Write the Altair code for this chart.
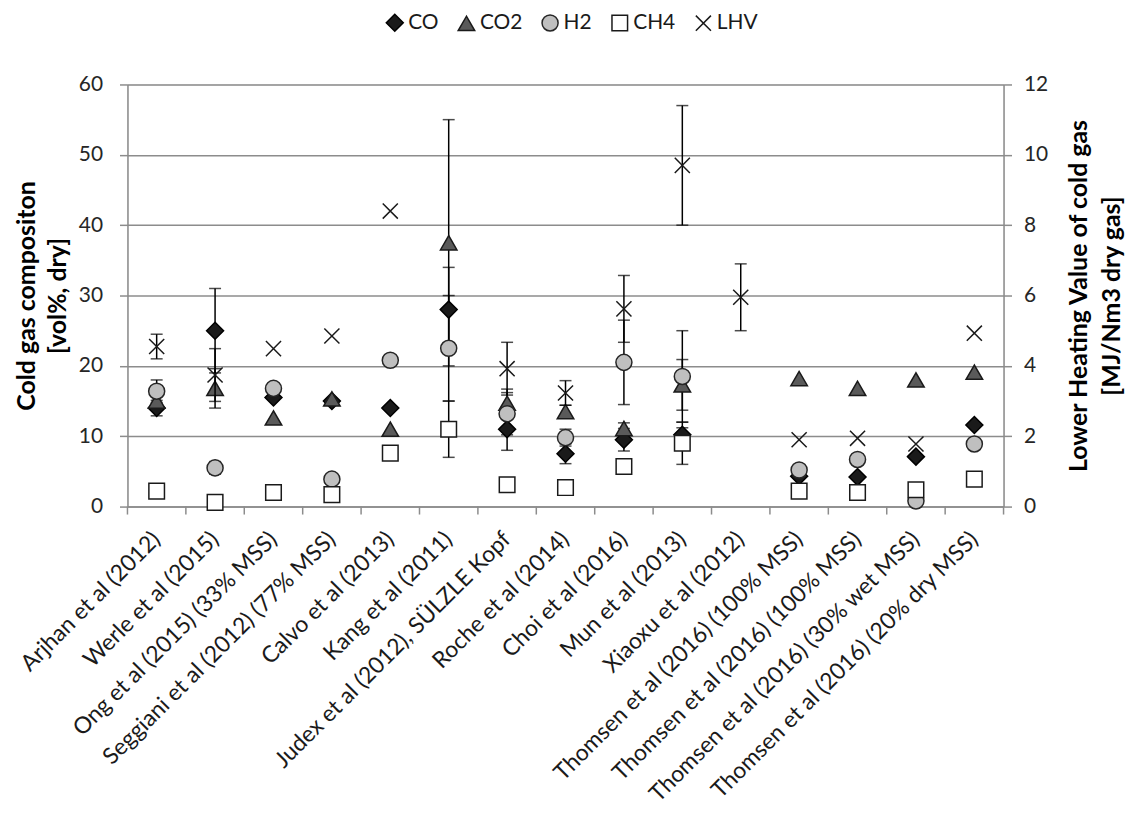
import altair as alt
import pandas as pd

categories = [
    "Arjhan et al (2012)", "Werle et al (2015)", "Ong et al (2015) (33% MSS)",
    "Seggiani et al (2012) (77% MSS)", "Calvo et al (2013)", "Kang et al (2011)",
    "Judex et al (2012), SÜLZLE Kopf", "Roche et al (2014)", "Choi et al (2016)",
    "Mun et al (2013)", "Xiaoxu et al (2012)", "Thomsen et al (2016) (100% MSS)",
    "Thomsen et al (2016) (100% MSS)", "Thomsen et al (2016) (30% wet MSS)",
    "Thomsen et al (2016) (20% dry MSS)",
]
series_names = ["CO", "CO2", "H2", "CH4", "LHV"]

co = [14.0, 25.0, 15.5, 15.0, 14.0, 28.0, 11.0, 7.5, 9.5, 10.2, None, 4.3, 4.2, 7.1, 11.6]
co2 = [15.0, 16.8, 12.6, 15.3, 11.0, 37.5, 14.7, 13.5, 11.1, 17.3, None, 18.2, 16.8, 18.0, 19.1]
h2 = [16.4, 5.5, 16.8, 3.9, 20.8, 22.5, 13.2, 9.8, 20.5, 18.5, None, 5.2, 6.7, 0.8, 8.9]
ch4 = [2.2, 0.6, 2.0, 1.7, 7.6, 11.0, 3.1, 2.7, 5.7, 9.0, None, 2.2, 2.0, 2.4, 3.9]
lhv = [4.55, 3.74, 4.49, 4.85, 8.4, None, 3.92, 3.23, 5.62, 9.7, 5.95, 1.9, 1.94, 1.78, 4.93]

co_err = [1.1, 6.0, None, None, None, 6.0, 3.0, 1.4, 1.6, 1.0, None, None, None, None, None]
co2_err = [None, 2.8, None, None, None, 17.5, 2.0, 0.9, 0.8, 3.6, None, None, None, None, None]
h2_err = [1.6, 0.9, None, None, None, 7.5, 3.0, 1.2, 6.0, 6.5, None, None, None, None, None]
ch4_err = [None, None, None, None, None, 4.0, None, None, None, 3.0, None, None, None, None, None]
lhv_err = [0.35, 0.75, None, None, None, None, 0.75, 0.35, 0.95, 1.7, 0.95, None, None, None, None]

comp_rows, comp_err_rows, lhv_rows, lhv_err_rows = [], [], [], []
for name, vals, errs in [("CO", co, co_err), ("CO2", co2, co2_err), ("H2", h2, h2_err), ("CH4", ch4, ch4_err)]:
    for i, (v, e) in enumerate(zip(vals, errs)):
        if v is not None:
            comp_rows.append({"idx": i, "series": name, "value": v})
            if e is not None:
                comp_err_rows.append({"idx": i, "series": name, "lo": v - e, "hi": v + e})
for i, (v, e) in enumerate(zip(lhv, lhv_err)):
    if v is not None:
        lhv_rows.append({"idx": i, "series": "LHV", "value": v})
        if e is not None:
            lhv_err_rows.append({"idx": i, "series": "LHV", "lo": v - e, "hi": v + e})

comp_df = pd.DataFrame(comp_rows)
comp_err_df = pd.DataFrame(comp_err_rows)
lhv_df = pd.DataFrame(lhv_rows)
lhv_err_df = pd.DataFrame(lhv_err_rows)
cat_df = pd.DataFrame({"idx": list(range(len(categories)))})
last_df = pd.DataFrame({"idx": [len(categories) - 1]})

FONT = "Lato"
GRID = "#8c8c8c"
label_expr = "[" + ",".join("'%s'" % c for c in categories) + "][datum.value]"

x_scale = alt.Scale(type="band", paddingInner=0, paddingOuter=0)
x_axis = alt.Axis(title=None, labelExpr=label_expr, labelAngle=-45, labelAlign="right",
                  labelBaseline="middle", labelFontSize=23, labelColor="#1a1a1a",
                  labelPadding=29, ticks=False, domain=True, domainColor=GRID,
                  domainWidth=1.5, grid=False, labelFont=FONT, labelLimit=500)


def X(**kw):
    return alt.X("idx:O", scale=x_scale, axis=x_axis, **kw)


left_scale = alt.Scale(domain=[0, 60], nice=False, zero=True)
left_axis = alt.Axis(title=["Cold gas compositon", "[vol%, dry]"], values=[0, 10, 20, 30, 40, 50, 60],
                     grid=True, gridColor=GRID, gridWidth=1.5, domainColor=GRID, domainWidth=1.5,
                     tickColor=GRID, tickWidth=1.5, tickSize=8, labelFontSize=21, labelColor="#262626",
                     labelPadding=17, titleFontSize=25, titleFontWeight="bold", titleColor="#000000",
                     titlePadding=8, labelFont=FONT, titleFont=FONT, titleLineHeight=31)
right_scale = alt.Scale(domain=[0, 12], nice=False, zero=True)
right_axis = alt.Axis(title=["Lower Heating Value of cold gas", "[MJ/Nm3 dry gas]"], orient="right",
                      values=[0, 2, 4, 6, 8, 10, 12], grid=False, domainColor=GRID, domainWidth=1.5,
                      tickColor=GRID, tickWidth=1.5, tickSize=8, labelFontSize=21, labelColor="#262626",
                      labelPadding=12, titleFontSize=25, titleFontWeight="bold", titleColor="#000000",
                      titleAngle=-90, titlePadding=11, labelFont=FONT, titleFont=FONT, titleLineHeight=33)

xpath = "M-1,-1L1,1M1,-1L-1,1"
legend = alt.Legend(title=None, orient="none", legendX=258, legendY=-73, direction="horizontal",
                    labelFontSize=21, labelFont=FONT, labelColor="#1a1a1a",
                    symbolStrokeWidth=1.5, columnPadding=16, labelOffset=3, padding=0)
shape_enc = alt.Shape("series:N", scale=alt.Scale(domain=series_names,
                      range=["diamond", "triangle-up", "circle", "square", xpath]), legend=legend)
fill_enc = alt.Fill("series:N", scale=alt.Scale(domain=series_names,
                    range=["#1a1a1a", "#5a5a5a", "#bfbfbf", "#ffffff", "transparent"]), legend=legend)
stroke_enc = alt.Stroke("series:N", scale=alt.Scale(domain=series_names,
                        range=["#000000", "#1a1a1a", "#262626", "#1a1a1a", "#1a1a1a"]), legend=legend)
size_enc = alt.Size("series:N", scale=alt.Scale(domain=series_names, range=[290, 230, 230, 190, 170]),
                    legend=legend)

boundary = alt.Chart(cat_df).mark_rule(color=GRID, strokeWidth=1.5).encode(
    x=X(bandPosition=0), y=alt.value(424), y2=alt.value(432))
boundary_end = alt.Chart(last_df).mark_rule(color=GRID, strokeWidth=1.5).encode(
    x=X(bandPosition=1), y=alt.value(424), y2=alt.value(432))

comp_rule = alt.Chart(comp_err_df).mark_rule(color="#000000", strokeWidth=1.5).encode(
    x=X(bandPosition=0.5), y=alt.Y("lo:Q", scale=left_scale, axis=left_axis), y2="hi:Q")
comp_cap_lo = alt.Chart(comp_err_df).mark_tick(color="#000000", thickness=1.5, size=12).encode(
    x=X(), y=alt.Y("lo:Q", scale=left_scale, axis=left_axis))
comp_cap_hi = alt.Chart(comp_err_df).mark_tick(color="#000000", thickness=1.5, size=12).encode(
    x=X(), y=alt.Y("hi:Q", scale=left_scale, axis=left_axis))
comp_pts = alt.Chart(comp_df).mark_point(filled=True, opacity=1, strokeWidth=1.5).encode(
    x=X(), y=alt.Y("value:Q", scale=left_scale, axis=left_axis),
    shape=shape_enc, fill=fill_enc, stroke=stroke_enc, size=size_enc)

left = alt.layer(boundary, boundary_end, comp_rule, comp_cap_lo, comp_cap_hi, comp_pts)

lhv_rule = alt.Chart(lhv_err_df).mark_rule(color="#000000", strokeWidth=1.5).encode(
    x=X(bandPosition=0.5), y=alt.Y("lo:Q", scale=right_scale, axis=right_axis), y2="hi:Q")
lhv_cap_lo = alt.Chart(lhv_err_df).mark_tick(color="#000000", thickness=1.5, size=12).encode(
    x=X(), y=alt.Y("lo:Q", scale=right_scale, axis=right_axis))
lhv_cap_hi = alt.Chart(lhv_err_df).mark_tick(color="#000000", thickness=1.5, size=12).encode(
    x=X(), y=alt.Y("hi:Q", scale=right_scale, axis=right_axis))
lhv_pts = alt.Chart(lhv_df).mark_point(filled=True, opacity=1, strokeWidth=1.5).encode(
    x=X(), y=alt.Y("value:Q", scale=right_scale, axis=right_axis),
    shape=shape_enc, fill=fill_enc, stroke=stroke_enc, size=size_enc)

right = alt.layer(lhv_rule, lhv_cap_lo, lhv_cap_hi, lhv_pts)

chart = alt.layer(left, right).resolve_scale(y="independent").properties(
    width=880, height=424,
    autosize=alt.AutoSizeParams(type="none"),
    padding={"left": 120, "top": 75, "right": 124, "bottom": 310},
    background="#ffffff",
).configure_view(stroke=None).configure(font=FONT)

chart.save("out.html", embed_options={"renderer": "svg", "actions": False})
